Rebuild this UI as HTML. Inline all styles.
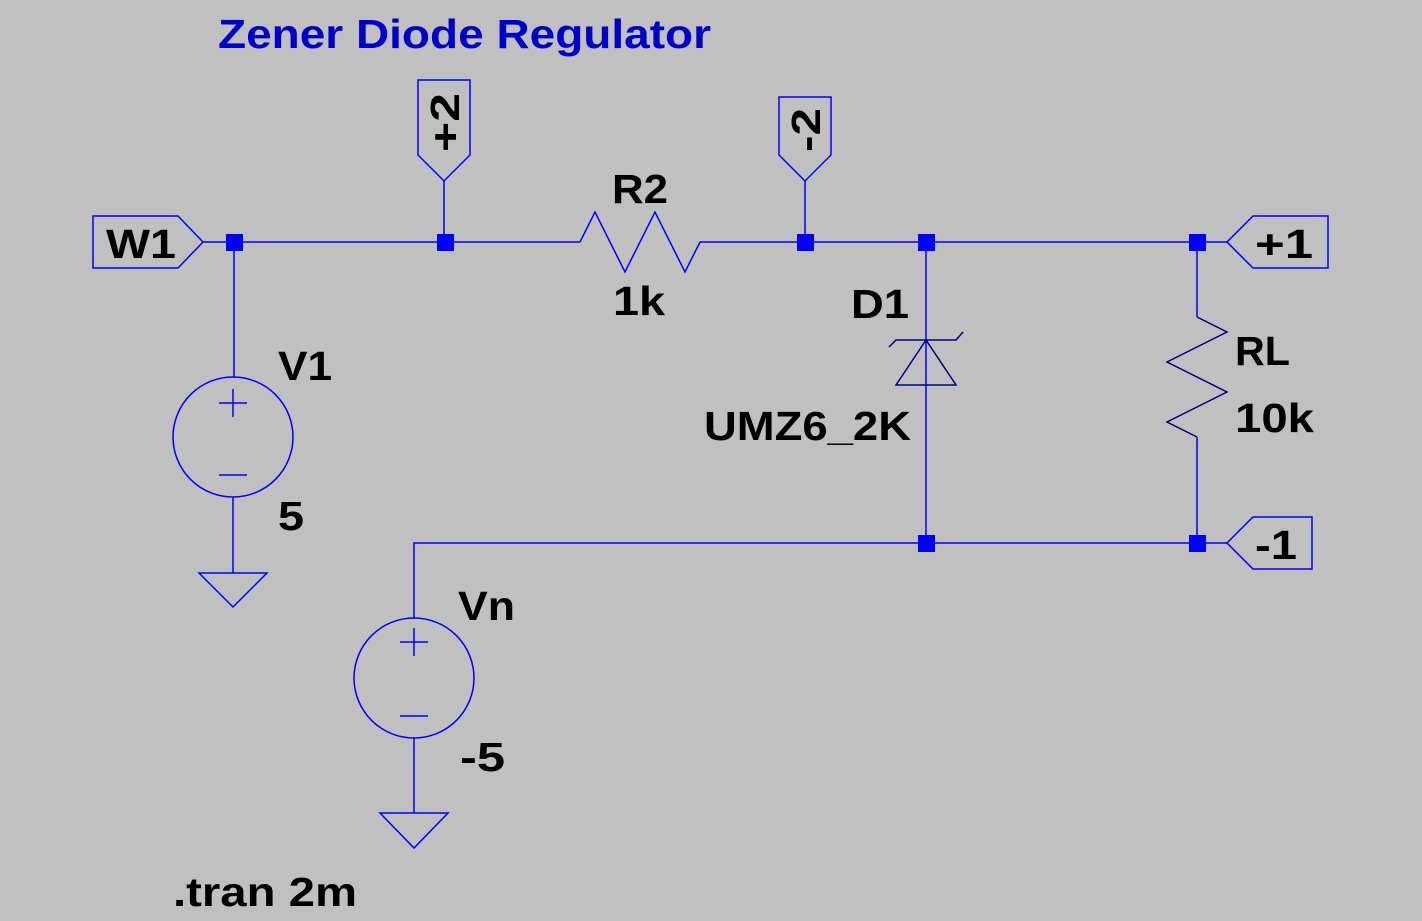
<!DOCTYPE html>
<html><head><style>
html,body{margin:0;padding:0;background:#c0c0c0;}
svg{display:block}
text{font-family:"Liberation Sans",sans-serif;font-weight:bold;font-size:41px;fill:#000}
</style></head><body>
<svg width="1422" height="921" viewBox="0 0 1422 921" xmlns="http://www.w3.org/2000/svg">
<rect width="1422" height="921" fill="#c0c0c0"/>
<g stroke="#0000ff" stroke-width="1.5" fill="none">
<line x1="203" y1="242" x2="580" y2="242"/>
<polyline points="580,242 595,212 625,272 655,212 685,272 700,242"/>
<line x1="700" y1="242" x2="1227" y2="242"/>
<polygon points="93,216 178,216 203,242 178,268 93,268"/>
<polygon points="418,80 470,80 470,155 444,181 418,155"/>
<line x1="444" y1="181" x2="444" y2="242"/>
<polygon points="779,97 831,97 831,155 805,181 779,155"/>
<line x1="805" y1="181" x2="805" y2="242"/>
<polygon points="1253,216 1328,216 1328,268 1253,268 1227,242"/>
<polygon points="1253,517 1312,517 1312,569 1253,569 1227,543"/>
<line x1="234" y1="242" x2="234" y2="377"/>
<circle cx="233" cy="437" r="60"/>
<line x1="219" y1="403" x2="247" y2="403"/><line x1="233" y1="389" x2="233" y2="417"/>
<line x1="219" y1="475" x2="247" y2="475"/>
<line x1="233" y1="497" x2="233" y2="573"/>
<polygon points="199,573 267,573 233,607"/>
<polyline points="414,618 414,543 1227,543"/>
<circle cx="414" cy="678" r="60"/>
<line x1="400" y1="642" x2="428" y2="642"/><line x1="414" y1="628" x2="414" y2="656"/>
<line x1="400" y1="716" x2="428" y2="716"/>
<line x1="414" y1="738" x2="414" y2="813"/>
<polygon points="380,813 448,813 414,848"/>
<line x1="926" y1="242" x2="926" y2="543"/>
<polyline points="889,347 896,340 956,340 963,332" stroke="#000080"/>
<polygon points="926,340 896,385 956,385" stroke="#000080"/>
<line x1="1197" y1="242" x2="1197" y2="317"/>
<polyline points="1197,317 1227,332 1167,362 1227,392 1167,422 1197,437" stroke="#000080"/>
<line x1="1197" y1="437" x2="1197" y2="543"/>
</g>
<g fill="#0000ff">
<rect x="226" y="234" width="17" height="17"/>
<rect x="437" y="234" width="17" height="17"/>
<rect x="797" y="234" width="17" height="17"/>
<rect x="918" y="234" width="17" height="17"/>
<rect x="1189" y="234" width="17" height="17"/>
<rect x="918" y="535" width="17" height="17"/>
<rect x="1189" y="535" width="17" height="17"/>
</g>
<g style="font-size:41px">
<text x="218" y="48" style="fill:#0000cc" textLength="493" lengthAdjust="spacingAndGlyphs">Zener Diode Regulator</text>
<text x="106" y="258" textLength="70" lengthAdjust="spacingAndGlyphs">W1</text>
<text x="1255" y="258" textLength="58" lengthAdjust="spacingAndGlyphs">+1</text>
<text x="1255" y="559" textLength="42" lengthAdjust="spacingAndGlyphs">-1</text>
<text transform="translate(459,152) rotate(-90)" textLength="59" lengthAdjust="spacingAndGlyphs">+2</text>
<text transform="translate(820,152) rotate(-90)" textLength="44" lengthAdjust="spacingAndGlyphs">-2</text>
<text x="612" y="203" textLength="56" lengthAdjust="spacingAndGlyphs">R2</text>
<text x="613" y="315" textLength="52" lengthAdjust="spacingAndGlyphs">1k</text>
<text x="851" y="318" textLength="58" lengthAdjust="spacingAndGlyphs">D1</text>
<text x="704" y="440" textLength="207" lengthAdjust="spacingAndGlyphs">UMZ6_2K</text>
<text x="1235" y="365" textLength="55" lengthAdjust="spacingAndGlyphs">RL</text>
<text x="1235" y="432" textLength="79" lengthAdjust="spacingAndGlyphs">10k</text>
<text x="278" y="380" textLength="54" lengthAdjust="spacingAndGlyphs">V1</text>
<text x="278" y="530" textLength="26" lengthAdjust="spacingAndGlyphs">5</text>
<text x="458" y="620" textLength="57" lengthAdjust="spacingAndGlyphs">Vn</text>
<text x="460" y="771" textLength="45" lengthAdjust="spacingAndGlyphs">-5</text>
<text x="173" y="906" textLength="184" lengthAdjust="spacingAndGlyphs">.tran 2m</text>
</g>
</svg>
</body></html>
